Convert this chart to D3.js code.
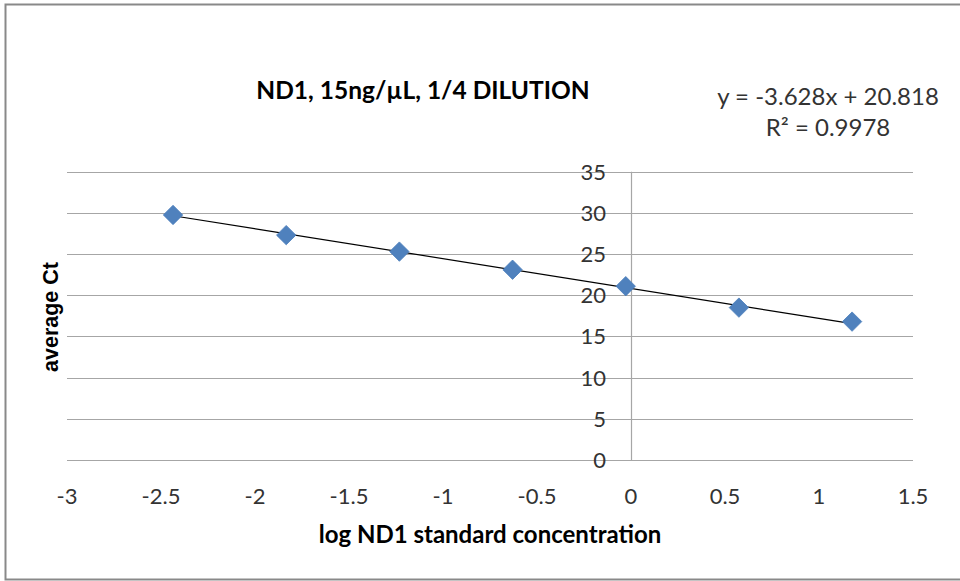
<!DOCTYPE html>
<html>
<head>
<meta charset="utf-8">
<script src="https://cdn.jsdelivr.net/npm/d3@7"></script>
<style>
  body { margin: 0; background: #fff; }
  svg { display: block; }
</style>
</head>
<body>
<div id="chart"></div>
<script>
// Daten
const logConc = [-2.436, -1.834, -1.232, -0.630, -0.028, 0.574, 1.176];
const avgCt = [29.75, 27.3, 25.3, 23.1, 21.1, 18.5, 16.8];
const xTicks = [-3, -2.5, -2, -1.5, -1, -0.5, 0, 0.5, 1, 1.5];
const yTicks = [0, 5, 10, 15, 20, 25, 30, 35];
// Trendlinie laut Gleichung im Diagramm
const slope = -3.628;
const intercept = 20.818;
const rSquared = 0.9978;

const width = 960;
const height = 581;
const plot = { left: 67, right: 913, top: 171.7, bottom: 460 };

const svg = d3.select("#chart")
  .append("svg")
  .attr("width", width)
  .attr("height", height);

// Rahmen
svg.append("rect")
  .attr("x", 5.5).attr("y", 4.5)
  .attr("width", 980).attr("height", 575)
  .attr("fill", "none")
  .attr("stroke", "#898989")
  .attr("stroke-width", 2);

const x = d3.scaleLinear().domain([-3, 1.5]).range([plot.left, plot.right]);
const y = d3.scaleLinear().domain([0, 35]).range([plot.bottom, plot.top]);

// horizontale Gitterlinien
svg.append("g")
  .selectAll("line")
  .data(yTicks)
  .enter()
  .append("line")
  .attr("x1", plot.left).attr("x2", plot.right)
  .attr("y1", d => Math.round(y(d)) + 0.5)
  .attr("y2", d => Math.round(y(d)) + 0.5)
  .attr("stroke", "#a6a6a6")
  .attr("stroke-width", 1.2);

// Y-Achse bei x = 0
svg.append("line")
  .attr("x1", Math.round(x(0)) + 0.5).attr("x2", Math.round(x(0)) + 0.5)
  .attr("y1", plot.top).attr("y2", plot.bottom)
  .attr("stroke", "#a6a6a6")
  .attr("stroke-width", 1.2);

const tickFont = "Lato, 'Open Sans', sans-serif";

// Y-Beschriftung
svg.append("g")
  .selectAll("text")
  .data(yTicks)
  .enter()
  .append("text")
  .attr("x", x(0) - 25)
  .attr("y", d => y(d))
  .attr("dy", "0.36em")
  .attr("text-anchor", "end")
  .attr("font-family", tickFont)
  .attr("font-size", 22)
  .attr("fill", "#333")
  .text(d => d);

// X-Beschriftung
svg.append("g")
  .selectAll("text")
  .data(xTicks)
  .enter()
  .append("text")
  .attr("x", d => x(d))
  .attr("y", 504)
  .attr("text-anchor", "middle")
  .attr("font-family", tickFont)
  .attr("font-size", 22)
  .attr("fill", "#333")
  .text(d => d);

// Trendlinie
const xMin = d3.min(logConc), xMax = d3.max(logConc);
svg.append("line")
  .attr("x1", x(xMin)).attr("y1", y(slope * xMin + intercept))
  .attr("x2", x(xMax)).attr("y2", y(slope * xMax + intercept))
  .attr("stroke", "#000")
  .attr("stroke-width", 1.2);

// Rauten-Marker
const diamond = d3.symbol().type(d3.symbolDiamond2).size(240);
svg.append("g")
  .selectAll("path")
  .data(logConc.map((v, i) => ({ x: v, y: avgCt[i] })))
  .enter()
  .append("path")
  .attr("d", diamond)
  .attr("transform", d => `translate(${x(d.x)},${y(d.y)})`)
  .attr("fill", "#4f81bd")
  .attr("stroke", "#4a7ebb")
  .attr("stroke-width", 0.8);

// Titel
svg.append("text")
  .attr("x", 423).attr("y", 99)
  .attr("text-anchor", "middle")
  .attr("font-family", tickFont)
  .attr("font-weight", "bold")
  .attr("font-size", 24.5)
  .attr("fill", "#000")
  .text("ND1, 15ng/µL, 1/4 DILUTION");

// Gleichung
const eq = svg.append("g")
  .attr("font-family", tickFont)
  .attr("font-size", 24)
  .attr("fill", "#333")
  .attr("text-anchor", "middle");
eq.append("text").attr("x", 828).attr("y", 105)
  .text(`y = ${slope}x + ${intercept}`);
eq.append("text").attr("x", 828).attr("y", 136)
  .text(`R² = ${rSquared}`);

// Achsentitel
svg.append("text")
  .attr("x", 490).attr("y", 543)
  .attr("text-anchor", "middle")
  .attr("font-family", tickFont)
  .attr("font-weight", "bold")
  .attr("font-size", 24)
  .attr("fill", "#000")
  .text("log ND1 standard  concentration");

svg.append("text")
  .attr("transform", "translate(58,317) rotate(-90)")
  .attr("text-anchor", "middle")
  .attr("font-family", "'Liberation Sans', Arial, sans-serif")
  .attr("font-weight", "bold")
  .attr("font-size", 21.5)
  .attr("fill", "#000")
  .text("average Ct");
</script>
</body>
</html>
